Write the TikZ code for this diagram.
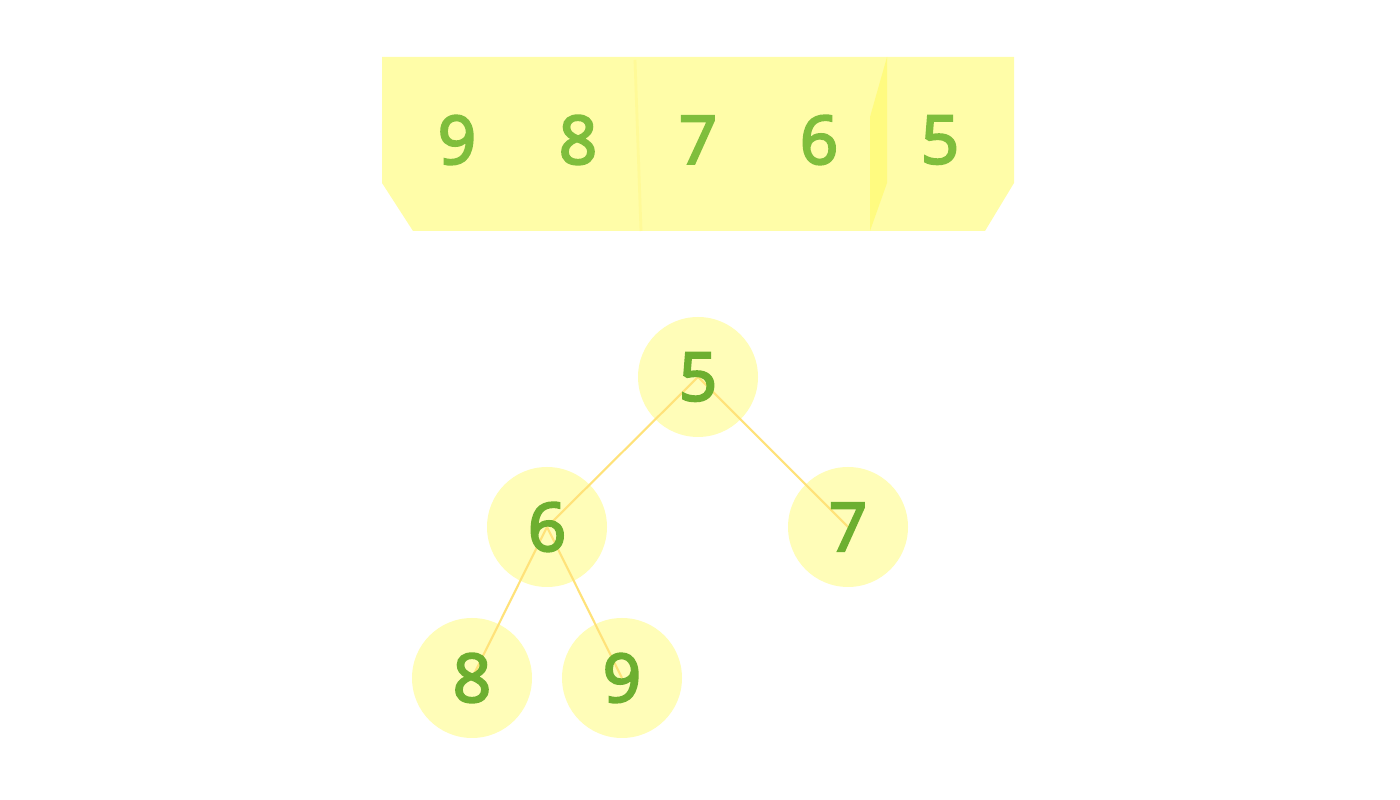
\documentclass[tikz,border=0pt]{standalone}
\usepackage{fontspec}
\newfontfamily\digitfont{Open Sans}[FakeBold=3.5]
\definecolor{barfill}{HTML}{FFFDA8}
\definecolor{keyfill}{HTML}{FFFDB8}
\definecolor{seam}{HTML}{FFFA98}
\definecolor{fold}{HTML}{FFFB80}
\definecolor{digit}{HTML}{7FBE3C}
\definecolor{treedigit}{HTML}{6DAF30}
\definecolor{edge}{HTML}{FFE27A}
\pgfdeclarelayer{bg}
\pgfsetlayers{bg,main}
\tikzset{
  cell/.style={text=digit, font=\digitfont\fontsize{19}{19}\selectfont},
  key/.style={circle, minimum size=1.2cm, inner sep=0pt, text=treedigit, font=\digitfont\fontsize{19}{19}\selectfont},
  link/.style={draw=edge, line width=0.6pt}
}

\begin{document}
\begin{tikzpicture}
  \useasboundingbox (0,0) rectangle (14,8);
  \fill [barfill] (3.82,7.43) -- (10.14,7.43) -- (10.14,6.17) -- (9.85,5.69) -- (4.13,5.69) -- (3.82,6.17) -- cycle;
  \draw [seam, line width=0.8pt] (6.35,7.40) -- (6.41,5.69);
  \fill [fold] (8.87,7.43) -- (8.87,6.17) -- (8.70,5.69) -- (8.70,6.83) -- cycle;
  \node [cell] (a1) at (4.57,6.60) {9};
  \node [cell] (a2) at (5.78,6.60) {8};
  \node [cell] (a3) at (6.98,6.60) {7};
  \node [cell] (a4) at (8.19,6.60) {6};
  \node [cell] (a5) at (9.40,6.60) {5};

  \node [key] (k5) at (6.98,4.23) {5};
  \node [key] (k6) at (5.47,2.73) {6};
  \node [key] (k7) at (8.48,2.73) {7};
  \node [key] (k8) at (4.72,1.22) {8};
  \node [key] (k9) at (6.22,1.22) {9};
  \begin{pgfonlayer}{bg}
    \foreach \k in {k5,k6,k7,k8,k9}
      \fill [keyfill] (\k) circle (0.6);
    \draw [link] (k5.center) -- (k6.center);
    \draw [link] (k5.center) -- (k7.center);
    \draw [link] (k6.center) -- (k8.center);
    \draw [link] (k6.center) -- (k9.center);
  \end{pgfonlayer}
\end{tikzpicture}
\end{document}
